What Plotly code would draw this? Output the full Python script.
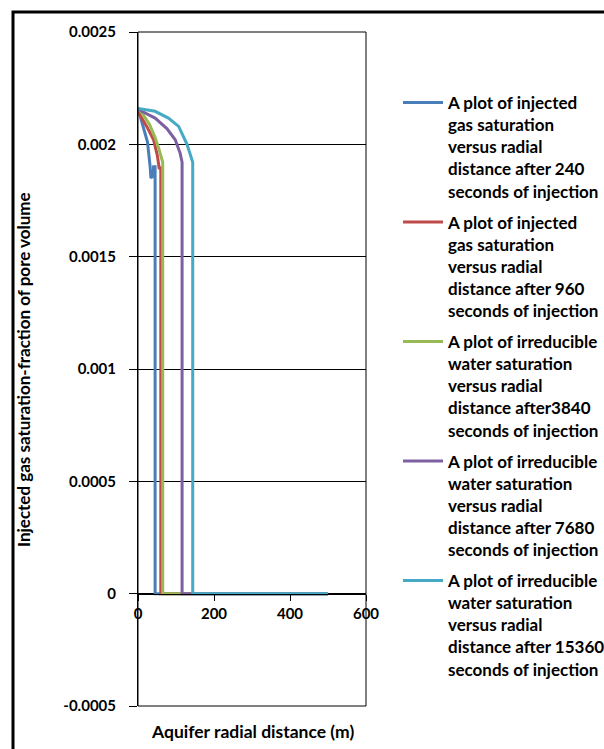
import plotly.graph_objects as go

# ---- data ----
x_240 = [0, 5, 14, 25, 32, 34, 40, 41, 45, 45, 500]
y_240 = [0.00216, 0.00213, 0.00208, 0.00201, 0.00190, 0.00185, 0.00186, 0.00190, 0.00190, 0, 0]

x_960 = [0, 5, 23, 41, 51, 56, 60, 60, 500]
y_960 = [0.00216, 0.00213, 0.00208, 0.00202, 0.00195, 0.00189, 0.00190, 0, 0]

x_3840 = [0, 10, 30, 45, 55, 63, 65, 65, 500]
y_3840 = [0.00216, 0.00214, 0.00209, 0.00203, 0.00198, 0.00192, 0.00192, 0, 0]

x_7680 = [0, 10, 45, 76, 98, 111, 116, 116, 500]
y_7680 = [0.00216, 0.002147, 0.002117, 0.00207, 0.00202, 0.00196, 0.00192, 0, 0]

x_15360 = [0, 45, 80, 107, 129, 142, 144, 144, 500]
y_15360 = [0.00216, 0.002147, 0.002117, 0.00208, 0.00200, 0.001924, 0.00192, 0, 0]

series_names = [
    "A plot of injected<br>gas saturation<br>versus radial<br>distance after 240<br>seconds of injection",
    "A plot of injected<br>gas saturation<br>versus radial<br>distance after 960<br>seconds of injection",
    "A plot of irreducible<br>water saturation<br>versus radial<br>distance after3840<br>seconds of injection",
    "A plot of irreducible<br>water saturation<br>versus radial<br>distance after 7680<br>seconds of injection",
    "A plot of irreducible<br>water saturation<br>versus radial<br>distance after 15360<br>seconds of injection",
]
colors = ["#4A7EBB", "#BE4B48", "#98B954", "#7D60A0", "#46AAC5"]

y_tickvals = [-0.0005, 0, 0.0005, 0.001, 0.0015, 0.002, 0.0025]
y_ticktext = ["-0.0005", "0", "0.0005", "0.001", "0.0015", "0.002", "0.0025"]
x_tickvals = [0, 200, 400, 600]
x_ticktext = ["0", "200", "400", "600"]

x_title = "Aquifer radial distance (m)"
y_title = "Injected gas saturation-fraction of pore volume"

FONT = "Lato"
W, H = 604, 749
ML, MR, MT, MB = 138, 238, 32, 43
PW = W - ML - MR
PH = H - MT - MB

def px_x(p):
    return (p - ML) / PW

def px_y(p):
    return (H - MB - p) / PH

fig = go.Figure()
xs = [x_240, x_960, x_3840, x_7680, x_15360]
ys = [y_240, y_960, y_3840, y_7680, y_15360]
for i in range(5):
    fig.add_trace(go.Scatter(
        x=xs[i], y=ys[i], mode="lines", name=series_names[i],
        legendgroup=f"g{i}",
        line=dict(color=colors[i], width=3),
    ))

fig.update_layout(
    width=W, height=H,
    margin=dict(l=ML, r=MR, t=MT, b=MB, autoexpand=False),
    paper_bgcolor="white", plot_bgcolor="white",
    font=dict(family=FONT, size=14, color="black", weight="bold"),
    showlegend=True,
    legend=dict(
        x=px_x(398), xanchor="left",
        y=px_y(85), yanchor="top",
        valign="top",
        tracegroupgap=6,
        itemwidth=40,
        font=dict(family=FONT, size=17, color="black", weight="bold"),
        bgcolor="rgba(0,0,0,0)",
    ),
    xaxis=dict(
        range=[0, 600], tickvals=x_tickvals, ticktext=x_ticktext,
        anchor="free", position=1/6,
        showline=True, linecolor="black", linewidth=1,
        ticks="outside", ticklen=6, tickcolor="black",
        showgrid=False, zeroline=False,
        tickfont=dict(family=FONT, size=15, weight="bold"),
    ),
    yaxis=dict(
        range=[-0.0005, 0.0025], tickvals=y_tickvals, ticktext=y_ticktext,
        showline=True, linecolor="black", linewidth=1,
        ticks="outside", ticklen=8, tickcolor="black",
        ticklabelstandoff=10,
        showgrid=True, gridcolor="black", gridwidth=1,
        zeroline=False,
        tickfont=dict(family=FONT, size=15, weight="bold"),
    ),
)

# plot box
fig.add_shape(type="rect", xref="paper", yref="paper", x0=0, x1=1, y0=0, y1=1,
              line=dict(color="black", width=1), layer="above")
# outer chart border
fig.add_shape(type="rect", xref="paper", yref="paper",
              x0=px_x(13), x1=px_x(620), y0=px_y(765), y1=px_y(12),
              line=dict(color="black", width=3), layer="above")

fig.add_annotation(text=x_title, xref="paper", yref="paper",
                   x=px_x(252), y=px_y(731), showarrow=False,
                   xanchor="center", yanchor="middle",
                   font=dict(family=FONT, size=17.5, weight="bold"))
fig.add_annotation(text=y_title, xref="paper", yref="paper",
                   x=px_x(23), y=px_y(370), showarrow=False, textangle=-90,
                   xanchor="center", yanchor="middle",
                   font=dict(family=FONT, size=17, weight="bold"))

fig.write_html("out.html")
